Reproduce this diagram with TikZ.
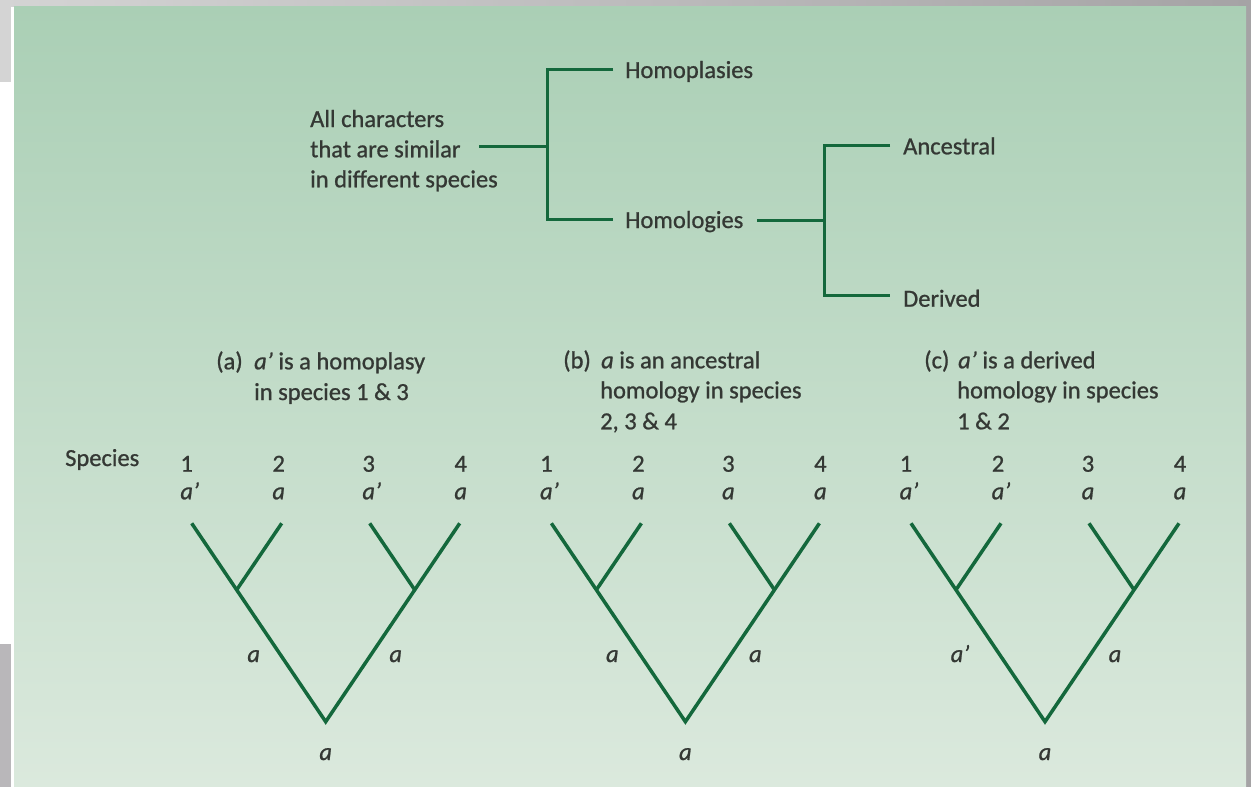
\documentclass[tikz,border=0pt]{standalone}
\usepackage{fontspec}
\setmainfont{Carlito}[RawFeature={embolden=0.9}]
\definecolor{gtop}{RGB}{170,207,181}
\definecolor{gbot}{RGB}{219,233,221}
\definecolor{lc}{RGB}{20,104,60}
\definecolor{tc}{RGB}{52,56,52}
\definecolor{greyA}{RGB}{212,212,212}
\definecolor{greyB}{RGB}{165,163,165}
\definecolor{greyC}{RGB}{185,183,186}
\begin{document}
\begin{tikzpicture}[x=1pt,y=-1pt,
  txt/.style={font=\fontsize{24.5}{30}\selectfont, text=tc, inner sep=0pt, anchor=base west},
  ctr/.style={font=\fontsize{24.5}{30}\selectfont, text=tc, inner sep=0pt, anchor=base},
  link/.style={draw=lc, line width=3pt},
  branch/.style={draw=lc, line width=3.5pt, line join=miter}]
\useasboundingbox (0,0) rectangle (1251,787);
% frame and background
\fill[white] (0,0) rectangle (1251,787);
\shade[left color=greyA, right color=greyB] (0,0) rectangle (1251,6);
\fill[greyA] (0,0) rectangle (11,82);
\fill[greyC] (0,644) rectangle (11,787);
\fill[greyB] (1246,0) rectangle (1251,787);
\shade[top color=gtop, bottom color=gbot] (14,6) rectangle (1246,787);

% ---------- top classification diagram ----------
\node[txt] (all1) at (310,127) {All characters};
\node[txt] (all2) at (310,157.3) {that are similar};
\node[txt] (all3) at (310,187.3) {in different species};
\node[txt] (hp) at (625,78) {Homoplasies};
\node[txt] (hl) at (625,228) {Homologies};
\node[txt] (anc) at (903,154.3) {Ancestral};
\node[txt] (der) at (903,306.7) {Derived};

\coordinate (s1) at (479,146);
\coordinate (ja) at (547,146);
\coordinate (jt) at (547,69);
\coordinate (jb) at (547,219);
\coordinate (et) at (613,69);
\coordinate (eb) at (613,219);
\draw[link] (s1) -- (ja);
\draw[link] (et) -- (jt) -- (jb) -- (eb);

\coordinate (s2) at (757,220);
\coordinate (ka) at (824,220);
\coordinate (kt) at (824,145);
\coordinate (kb) at (824,295);
\coordinate (ft) at (890,145);
\coordinate (fb) at (890,295);
\draw[link] (s2) -- (ka);
\draw[link] (ft) -- (kt) -- (kb) -- (fb);

% ---------- captions ----------
\node[txt] (capa0) at (216,369.3) {(a)};
\node[txt] (capa1) at (254,369.3) {\textit{a’} is a homoplasy};
\node[txt] (capa2) at (254,400) {in species 1 \& 3};

\node[txt] (capb0) at (563,368.3) {(b)};
\node[txt] (capb1) at (601,368.3) {\textit{a} is an ancestral};
\node[txt] (capb2) at (600,398.3) {homology in species};
\node[txt] (capb3) at (600,429.3) {2, 3 \& 4};

\node[txt] (capc0) at (924,368.3) {(c)};
\node[txt] (capc1) at (958,368.3) {\textit{a’} is a derived};
\node[txt] (capc2) at (957,398.3) {homology in species};
\node[txt] (capc3) at (957,429.3) {1 \& 2};

\node[txt] (species) at (65,466) {Species};

% ---------- trees ----------
\foreach \rx/\t/\la/\lb/\lcc/\ld/\bl/\bo in {
  325.7/A/{a\rlap{’}}/a/{a\rlap{’}}/a/a/-72,
  685.4/B/{a\rlap{’}}/a/a/a/a/-73,
  1045/C/{a\rlap{’}}/{a\rlap{’}}/a/a/{a\rlap{’}}/-88}{
  \coordinate (\t-R) at (\rx,721.7);
  \coordinate (\t-L1) at (\rx-134,523.3);
  \coordinate (\t-L2) at (\rx-44,523.3);
  \coordinate (\t-L3) at (\rx+44,523.3);
  \coordinate (\t-L4) at (\rx+134,523.3);
  \coordinate (\t-N1) at (\rx-89,589.8);
  \coordinate (\t-N2) at (\rx+89,589.8);
  \draw[branch] (\t-L1) -- (\t-R) -- (\t-L4);
  \draw[branch] (\t-L2) -- (\t-N1);
  \draw[branch] (\t-L3) -- (\t-N2);
  \node[ctr] (\t-n1) at (\rx-139,471.7) {1};
  \node[ctr] (\t-n2) at (\rx-47,471.7) {2};
  \node[ctr] (\t-n3) at (\rx+43,471.7) {3};
  \node[ctr] (\t-n4) at (\rx+135,471.7) {4};
  \node[ctr] (\t-c1) at (\rx-139,499.3) {\itshape \la};
  \node[ctr] (\t-c2) at (\rx-47,499.3) {\itshape \lb};
  \node[ctr] (\t-c3) at (\rx+43,499.3) {\itshape \lcc};
  \node[ctr] (\t-c4) at (\rx+135,499.3) {\itshape \ld};
  \node[ctr] (\t-bl) at (\rx+\bo,662) {\itshape \bl};
  \node[ctr] (\t-br) at (\rx+70,662) {\itshape a};
  \node[ctr] (\t-root) at (\rx,760) {\itshape a};
}
\end{tikzpicture}
\end{document}
